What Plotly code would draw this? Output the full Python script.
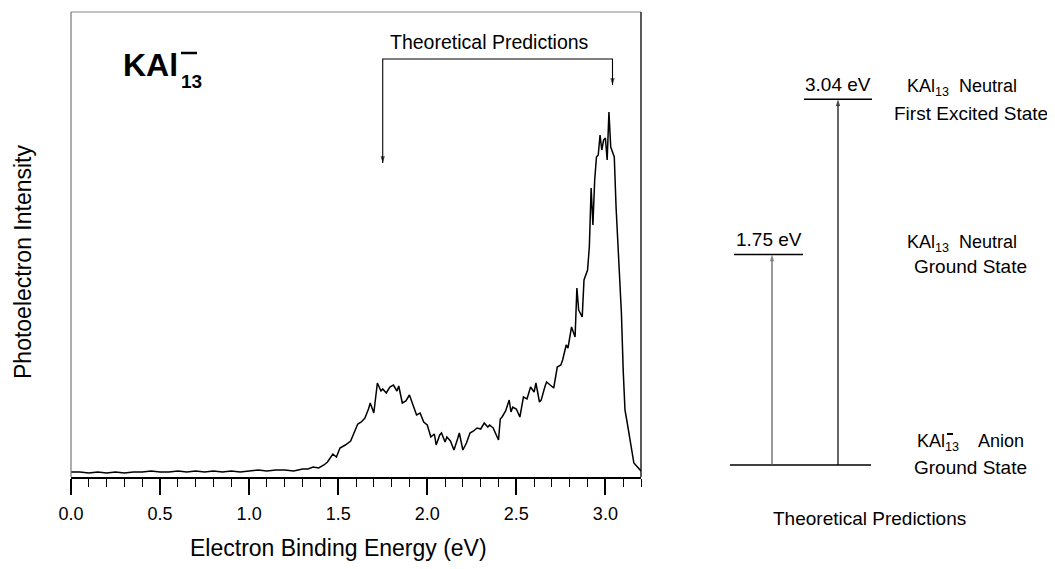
import plotly.graph_objects as go

# ---- data ----
energy_ev = [0.00, 0.05, 0.10, 0.15, 0.20, 0.25, 0.30, 0.35, 0.40, 0.45, 0.50, 0.55, 0.60, 0.65,
             0.70, 0.75, 0.80, 0.85, 0.90, 0.95, 1.00, 1.05, 1.10, 1.15, 1.20, 1.25, 1.30, 1.33,
             1.36, 1.39, 1.42, 1.44, 1.47, 1.49, 1.51, 1.54, 1.57, 1.59, 1.61, 1.63, 1.65, 1.67,
             1.68, 1.70, 1.72, 1.74, 1.75, 1.77, 1.79, 1.81, 1.83, 1.84, 1.86, 1.88, 1.90, 1.92,
             1.94, 1.96, 1.98, 2.00, 2.02, 2.04, 2.05, 2.07, 2.08, 2.10, 2.11, 2.13, 2.15, 2.17,
             2.18, 2.20, 2.22, 2.24, 2.26, 2.28, 2.30, 2.32, 2.34, 2.35, 2.37, 2.40, 2.41, 2.42,
             2.44, 2.46, 2.47, 2.48, 2.50, 2.52, 2.54, 2.56, 2.58, 2.60, 2.61, 2.63, 2.64, 2.66,
             2.67, 2.69, 2.71, 2.73, 2.75, 2.76, 2.78, 2.79, 2.81, 2.83, 2.84, 2.85, 2.87, 2.88,
             2.90, 2.91, 2.92, 2.93, 2.94, 2.95, 2.96, 2.97, 2.98, 2.99, 3.00, 3.01, 3.02, 3.03,
             3.05, 3.06, 3.07, 3.08, 3.09, 3.10, 3.11, 3.12, 3.13, 3.14, 3.16, 3.18, 3.19, 3.20]
intensity = [5, 5, 4, 5, 4, 5, 4, 5, 5, 6, 5, 5, 6, 5,
             6, 5, 6, 5, 6, 5, 6, 7, 6, 7, 7, 6, 8, 8,
             10, 9, 12, 15, 23, 20, 29, 32, 36, 45, 53, 55, 59, 68,
             74, 64, 94, 86, 88, 84, 90, 92, 86, 91, 74, 76, 82, 72,
             62, 64, 55, 52, 40, 43, 32, 42, 44, 35, 40, 36, 27, 38,
             44, 27, 34, 44, 46, 49, 48, 54, 50, 52, 49, 37, 58, 60,
             66, 77, 65, 70, 68, 60, 80, 78, 90, 85, 94, 75, 77, 90,
             95, 92, 89, 110, 112, 117, 132, 129, 150, 140, 189, 167, 160, 197,
             207, 230, 289, 252, 297, 320, 322, 342, 327, 337, 339, 317, 365, 330,
             320, 270, 230, 195, 164, 107, 67, 57, 45, 34, 14, 10, 8, 6]

predicted_ev = [1.75, 3.04]          # theoretical predictions (eV)
level_labels = ["1.75 eV", "3.04 eV"]
ground_ev = 0.0
x_ticks = [0.0, 0.5, 1.0, 1.5, 2.0, 2.5, 3.0]

# ---- layout helpers (page pixel -> paper); page body has an 8px margin ----
W, H = 1055, 569
OFF = 8
def xp(px): return (px - OFF) / W
def yp(py): return 1 - (py - OFF) / H

FONT = "Liberation Sans, Arial, Helvetica, sans-serif"

fig = go.Figure()
fig.add_trace(go.Scatter(x=energy_ev, y=intensity, mode="lines",
                         line=dict(color="black", width=1.5), showlegend=False,
                         hoverinfo="skip", xaxis="x", yaxis="y"))

# right energy-level diagram (x2 in page-pixel units, y2 in eV)
PX_PER_EV = 120.3
GROUND_PY = 465
X2_LEFT = 680
y2_lo = (GROUND_PY - (OFF + H)) / PX_PER_EV
y2_hi = (GROUND_PY - OFF) / PX_PER_EV
level_x = [(734, 803), (804, 872)]
arrow_x = [772, 838]
arrow_col = ["#555555", "black"]
fig.add_trace(go.Scatter(x=[730, 871], y=[ground_ev, ground_ev], mode="lines",
                         line=dict(color="black", width=1.4), showlegend=False,
                         hoverinfo="skip", xaxis="x2", yaxis="y2"))
for i, e in enumerate(predicted_ev):
    fig.add_trace(go.Scatter(x=list(level_x[i]), y=[e, e], mode="lines",
                             line=dict(color="black", width=1.4), showlegend=False,
                             hoverinfo="skip", xaxis="x2", yaxis="y2"))
    fig.add_trace(go.Scatter(x=[arrow_x[i], arrow_x[i]], y=[ground_ev, e],
                             mode="lines+markers",
                             line=dict(color=arrow_col[i], width=1.2),
                             marker=dict(symbol="arrow", size=[0, 7], angleref="previous",
                                         color=arrow_col[i], line=dict(width=0)),
                             showlegend=False, hoverinfo="skip", xaxis="x2", yaxis="y2"))

ann = []
shapes = []
for i, e in enumerate(predicted_ev):
    ann.append(dict(x=(level_x[i][0] + level_x[i][1]) / 2, y=e, xref="x2", yref="y2",
                    text=level_labels[i], showarrow=False, xanchor="center",
                    yanchor="bottom", yshift=2,
                    font=dict(size=19, color="black", family=FONT)))

# bracket on spectrum (intensity units)
y_bracket = 418
tips = [314, 392]
fig.add_trace(go.Scatter(x=[predicted_ev[0], predicted_ev[0], predicted_ev[1], predicted_ev[1]],
                         y=[tips[0], y_bracket, y_bracket, tips[1]], mode="lines",
                         line=dict(color="black", width=1.1), showlegend=False,
                         hoverinfo="skip", xaxis="x", yaxis="y"))
for i, e in enumerate(predicted_ev):
    fig.add_trace(go.Scatter(x=[e, e], y=[y_bracket, tips[i]], mode="markers",
                             marker=dict(symbol="arrow", size=[0, 7], angleref="previous",
                                         color="black", line=dict(width=0)),
                             showlegend=False, hoverinfo="skip", xaxis="x", yaxis="y"))

def txt(px, py, t, size, **kw):
    d = dict(x=xp(px), y=yp(py), xref="paper", yref="paper", text=t, showarrow=False,
             xanchor="center", yanchor="middle",
             font=dict(size=size, color="black", family=FONT))
    d.update(kw)
    ann.append(d)

txt(489, 42, "Theoretical Predictions", 19.5)

# frame (top/left grey, right black)
shapes.append(dict(type="line", xref="paper", yref="paper", x0=xp(71), x1=xp(641),
                   y0=yp(12), y1=yp(12), line=dict(color="#888888", width=1.2)))
shapes.append(dict(type="line", xref="paper", yref="paper", x0=xp(71), x1=xp(71),
                   y0=yp(12), y1=yp(477), line=dict(color="#777777", width=1.2)))
shapes.append(dict(type="line", xref="paper", yref="paper", x0=xp(641), x1=xp(641),
                   y0=yp(12), y1=yp(477), line=dict(color="black", width=1.3)))

# title KAl13-
txt(121, 65, "<b>KAl</b>", 32, xanchor="left")
txt(179, 82, "<b>13</b>", 19, xanchor="left")
shapes.append(dict(type="line", xref="paper", yref="paper", x0=xp(181), x1=xp(197),
                   y0=yp(53), y1=yp(53), line=dict(color="black", width=2.5)))

# axis titles
txt(338, 548, "Electron Binding Energy (eV)", 23)
txt(23, 262, "Photoelectron Intensity", 23, textangle=-90)

# right labels
txt(962, 88, "KAl<sub>13</sub>  Neutral", 18)
txt(971, 113, "First Excited State", 19)
txt(962, 243, "KAl<sub>13</sub>  Neutral", 18)
txt(970, 266, "Ground State", 19)
txt(970, 442, "KAl<sub>13</sub>    Anion", 18)
txt(970, 467, "Ground State", 19)
txt(869, 518, "Theoretical Predictions", 19)
shapes.append(dict(type="line", xref="paper", yref="paper", x0=xp(947), x1=xp(953),
                   y0=yp(434), y1=yp(434), line=dict(color="black", width=2)))

fig.update_layout(
    width=W, height=H, margin=dict(l=0, r=0, t=0, b=0, autoexpand=False),
    paper_bgcolor="white", plot_bgcolor="rgba(0,0,0,0)",
    xaxis=dict(domain=[xp(71), xp(641)], range=[0, 3.2], anchor="y", automargin=False,
               tickvals=x_ticks, tickformat=".1f", ticks="outside", ticklen=16,
               tickwidth=1.5, tickcolor="black", showline=True, linecolor="black",
               linewidth=1.5, showgrid=False, zeroline=False, ticklabelstandoff=4,
               tickfont=dict(size=18, color="black", family=FONT),
               minor=dict(dtick=0.1, ticks="outside", ticklen=8, tickwidth=1.3,
                          tickcolor="black", showgrid=False)),
    yaxis=dict(domain=[yp(477), yp(12)], range=[0, 465], anchor="x", automargin=False,
               showticklabels=False, ticks="", showgrid=False, zeroline=False,
               showline=False),
    xaxis2=dict(domain=[xp(X2_LEFT), 1], range=[X2_LEFT, W + OFF], anchor="y2",
                visible=False, automargin=False),
    yaxis2=dict(domain=[0, 1], range=[y2_lo, y2_hi], anchor="x2", visible=False,
                automargin=False),
    annotations=ann, shapes=shapes,
)

fig.write_html("out.html")
